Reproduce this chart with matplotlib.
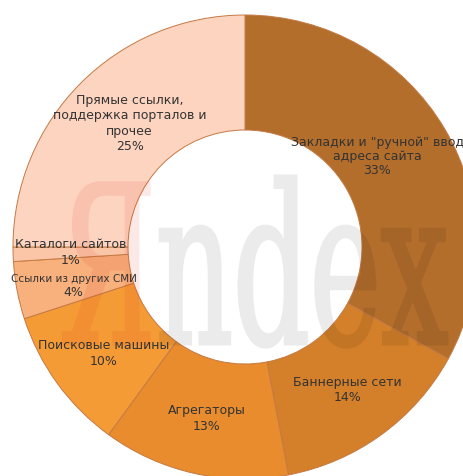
import numpy as np
import matplotlib
matplotlib.use("Agg")
import matplotlib.pyplot as plt
from matplotlib.textpath import TextPath
from matplotlib.font_manager import FontProperties
from matplotlib.patches import PathPatch
from matplotlib.transforms import Affine2D

labels = ['Закладки и "ручной" ввод\nадреса сайта', 'Баннерные сети', 'Агрегаторы',
          'Поисковые машины', 'Ссылки из других СМИ', 'Каталоги сайтов',
          'Прямые ссылки,\nподдержка порталов и\nпрочее']
values = [33, 14, 13, 10, 4, 1, 25]
colors = ['#b46e2c', '#d47f2a', '#e88c2e', '#f59b36', '#f8b07c', '#fbc6a7', '#fdd4bf']

# label layout tweaks (pixels: dx right, dy down), line spacing
offsets = [(-18, -2), (0, 2), (0, 1), (0, 4), (0, 5), (0, 0), (8, 0)]
spacing = [1.1, 1.25, 1.25, 1.25, 1.25, 1.25, 1.25]

W, H = 464, 476
fig = plt.figure(figsize=(W / 100, H / 100), dpi=100)
ax = fig.add_axes([0, 0, 1, 1])

cx, cy, R, r_in = 245, H - 247, 232, 117
wedges, _ = ax.pie(values, colors=colors, startangle=90, counterclock=False,
                   center=(cx, cy), radius=R, frame=True,
                   wedgeprops=dict(width=R - r_in, edgecolor='#c47a44', linewidth=0.7))
ax.set_xlim(0, W)
ax.set_ylim(0, H)
ax.set_aspect('equal')
ax.axis('off')


def alpha_filter(a):
    def f(img, dpi):
        out = img.copy()
        out[..., 3] *= a
        return out, 0, 0
    return f


# watermark
fp = FontProperties(family='DejaVu Serif')
full = TextPath((0, 0), 'Яndex', size=100, prop=fp)
tail = TextPath((0, 0), 'ndex', size=100, prop=fp)
ya = TextPath((0, 0), 'Я', size=100, prop=fp)
fb = full.get_extents()
tb = tail.get_extents()
x0, x1, ytop, ybase = 63, 447, H - 176, H - 344
sx = (x1 - x0) / fb.width
sy = (ytop - ybase) / fb.y1
tr = Affine2D().translate(-fb.x0, 0).scale(sx, sy).translate(x0, ybase)
off = fb.x1 - tb.x1
tr_tail = Affine2D().translate(off, 0) + tr
p1 = PathPatch(tr.transform_path(ya), facecolor=(0.85, 0.15, 0.1), edgecolor=(0.85, 0.15, 0.1),
               linewidth=2.2, zorder=5)
p1.set_agg_filter(alpha_filter(0.1))
ax.add_patch(p1)
p2 = PathPatch(tr_tail.transform_path(tail), facecolor='black', edgecolor='black',
               linewidth=2.2, zorder=5)
p2.set_agg_filter(alpha_filter(0.08))
ax.add_patch(p2)

rl = (R + r_in) / 2
for w, lab, v, (dx, dy), ls in zip(wedges, labels, values, offsets, spacing):
    ang = np.deg2rad((w.theta1 + w.theta2) / 2)
    x = cx + rl * np.cos(ang) + dx
    y = cy + rl * np.sin(ang) - dy
    if v == 4:
        ax.text(x, y + 1, lab, ha='center', va='bottom', fontsize=7.5,
                color='#333333', family='DejaVu Sans', zorder=6)
        ax.text(x, y - 1, f'{v}%', ha='center', va='top', fontsize=9,
                color='#333333', family='DejaVu Sans', zorder=6)
    else:
        ax.text(x, y, f'{lab}\n{v}%', ha='center', va='center', fontsize=9,
                color='#333333', family='DejaVu Sans', linespacing=ls, zorder=6)

fig.savefig('out.png', dpi=100)
